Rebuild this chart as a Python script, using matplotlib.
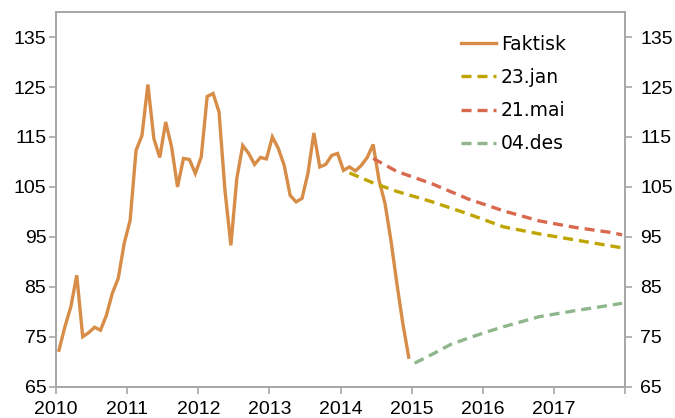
import matplotlib
matplotlib.use("Agg")
import matplotlib.pyplot as plt
import numpy as np

# Actual values, monthly Jan 2010 - Dec 2014
faktisk = [72.3, 77.0, 81.0, 87.3, 75.0, 75.8, 76.9, 76.3, 79.3, 83.7, 86.7, 93.7,
           98.3, 112.3, 115.3, 125.5, 114.7, 110.9, 118.0, 113.0, 105.0, 110.7, 110.5, 107.7,
           111.0, 123.1, 123.7, 120.0, 104.3, 93.3, 106.7, 113.3, 111.7, 109.5, 110.9, 110.6,
           115.0, 112.7, 109.3, 103.3, 102.0, 102.7, 107.7, 115.8, 109.0, 109.5, 111.3, 111.7,
           108.3, 109.0, 108.2, 109.3, 110.9, 113.5, 106.3, 101.7, 94.3, 85.7, 77.7, 70.9]
faktisk_months = list(range(len(faktisk)))  # months since Jan 2010

# Forecasts (month index since Jan 2010, value)
jan23_months = [49, 53, 57, 63, 69, 72, 75, 81, 87, 93, 95]
jan23_values = [107.8, 105.8, 104.1, 102.0, 99.6, 98.3, 97.0, 95.6, 94.4, 93.2, 92.8]

mai21_months = [53, 57, 63, 69, 75, 81, 87, 93, 95]
mai21_values = [110.7, 108.1, 105.6, 102.6, 100.2, 98.2, 96.9, 95.9, 95.4]

des04_months = [60, 63, 66, 69, 72, 75, 81, 87, 93, 95]
des04_values = [69.7, 71.5, 73.4, 74.7, 75.9, 77.0, 79.0, 80.2, 81.3, 81.7]

year_ticks = [2010, 2011, 2012, 2013, 2014, 2015, 2016, 2017, 2018]
year_labels = ["2010", "2011", "2012", "2013", "2014", "2015", "2016", "2017", ""]
y_ticks = [65, 75, 85, 95, 105, 115, 125, 135]


def to_year(months):
    return [2010 + (m + 0.5) / 12 for m in months]


fig = plt.figure(figsize=(6.75, 4.18), dpi=100)
ax = fig.add_axes([0.083, 0.075, 0.843, 0.896])

c_fak = "#D78D47"
c_jan = "#C0A400"
c_mai = "#D8694E"
c_des = "#8FB68C"
lw = 2.4

ax.plot(to_year(faktisk_months), faktisk, color=c_fak, lw=lw, label="Faktisk",
        solid_joinstyle="miter")
ax.plot(to_year(jan23_months), jan23_values, color=c_jan, lw=lw, dashes=(3, 1.8),
        dash_capstyle="butt", label="23.jan")
ax.plot(to_year(mai21_months), mai21_values, color=c_mai, lw=lw, dashes=(3, 1.8),
        dash_capstyle="butt", label="21.mai")
ax.plot(to_year(des04_months), des04_values, color=c_des, lw=lw, dashes=(3, 1.8),
        dash_capstyle="butt", label="04.des")

ax.set_xlim(2010, 2018)
ax.set_ylim(65, 140)
ax.set_xticks(year_ticks)
ax.set_xticklabels(year_labels)
ax.set_yticks(y_ticks)

spine_c = "#A6A6A6"
for s in ax.spines.values():
    s.set_color(spine_c)
    s.set_linewidth(1.2)

fs = 14
ax.tick_params(axis="both", direction="out", length=5, width=1.2, color=spine_c,
               labelsize=fs, pad=2)
ax.tick_params(axis="x", pad=5)
for lab in ax.get_xticklabels() + ax.get_yticklabels():
    lab.set_family("Liberation Sans")

ax2 = ax.twinx()
ax2.set_ylim(65, 140)
ax2.set_yticks(y_ticks)
ax2.tick_params(axis="y", direction="out", length=5, width=1.2, color=spine_c,
                labelsize=fs, pad=6)
for lab in ax2.get_yticklabels():
    lab.set_family("Liberation Sans")
for s in ax2.spines.values():
    s.set_color(spine_c)
    s.set_linewidth(1.2)

leg = ax.legend(loc="upper left", bbox_to_anchor=(0.698, 0.96), frameon=False,
                prop=dict(family="DejaVu Sans", size=13.5), handlelength=1.9,
                handletextpad=0.25, labelspacing=0.76, borderaxespad=0)

fig.savefig("out.png", dpi=100)
